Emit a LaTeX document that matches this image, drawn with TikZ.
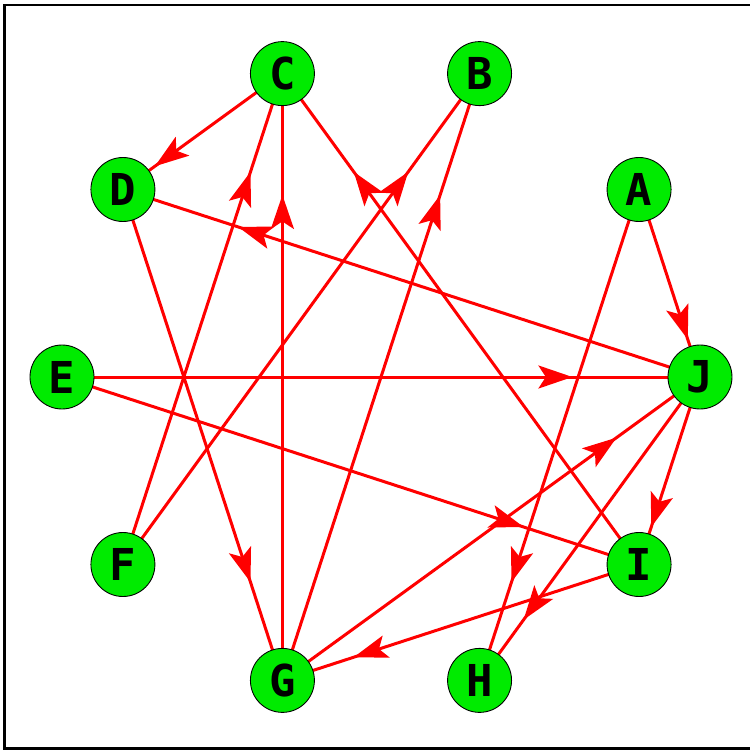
\documentclass[tikz,border=0pt]{standalone}
\usepackage{fontspec}
\setmainfont{DejaVu Sans Mono}
\usetikzlibrary{arrows.meta,decorations.markings,backgrounds}
\definecolor{vgreen}{RGB}{0,235,0}
\begin{document}
\begin{tikzpicture}
          \useasboundingbox (-7.62,-7.46) rectangle (7.38,7.54);
          \draw[line width=0.06cm] (-7.52,-7.43) rectangle (7.6,7.44);
          \tikzstyle{every node}=[draw,shape=circle,fill=vgreen,line width=0.5pt,
            minimum size=1.28cm,inner sep=0pt,font=\fontsize{25}{25}\selectfont\bfseries];
          \tikzstyle{arc}=[draw=red,line width=0.06cm,postaction={decorate},
            decoration={markings,mark=at position 0.8 with
              {\arrow[red]{Stealth[length=0.68cm,width=0.46cm,inset=0.15cm]}}}];
          %\node (name) at (theta:r) {text};
          \node (J) at (0:6.38) {J};
          \node (A) at (36:6.38) {A};
          \node (B) at (2*36:6.38) {B};
          \node (C) at (3*36:6.38) {C};
          \node (D) at (4*36:6.38) {D};
          \node (E) at (5*36:6.38) {E};
          \node (F) at (6*36:6.38) {F};
          \node (G) at (7*36:6.38) {G};
          \node (H) at (8*36:6.38) {H};
          \node (I) at (9*36:6.38) {I};
          \begin{pgfonlayer}{background}
          \draw[arc] (C.center)--(D.center);
          \draw[arc] (F.center)--(C.center);
          \draw[arc] (G.center)--(C.center);
          \draw[arc] (I.center)--(C.center);
          \draw[arc] (F.center)--(B.center);
          \draw[arc] (G.center)--(B.center);
          \draw[arc] (D.center)--(G.center);
          \draw[arc] (J.center)--(D.center);
          \draw[arc] (A.center)--(J.center);
          \draw[arc] (A.center)--(H.center);
          \draw[arc] (E.center)--(J.center);
          \draw[arc] (E.center)--(I.center);
          \draw[arc] (G.center)--(J.center);
          \draw[arc] (J.center)--(I.center);
          \draw[arc] (J.center)--(H.center);
          \draw[arc] (I.center)--(G.center);
          \end{pgfonlayer}
      \end{tikzpicture}
\end{document}
